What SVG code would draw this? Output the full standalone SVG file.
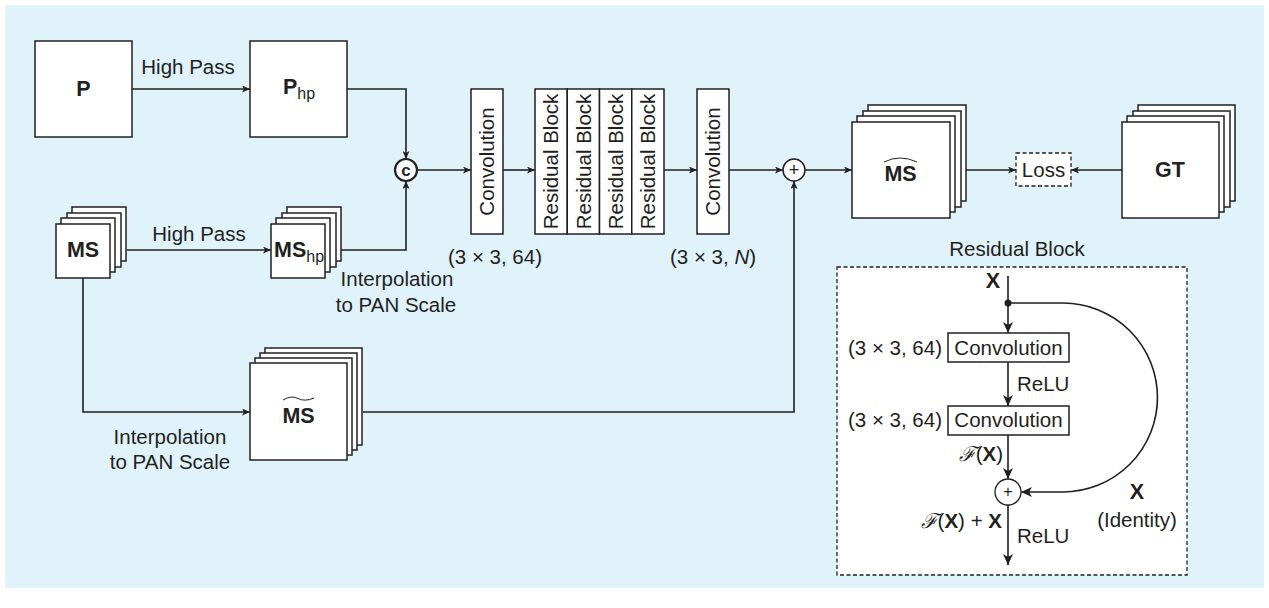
<svg xmlns="http://www.w3.org/2000/svg" width="1269" height="608" viewBox="0 0 1269 608">
  <style>
    .bg { fill: #e0f2fa; }
    .box { fill: #ffffff; stroke: #231f20; stroke-width: 1.5; }
    .dash { fill: #ffffff; stroke: #231f20; stroke-width: 1.3; stroke-dasharray: 4 2.5; }
    .wire { fill: none; stroke: #231f20; stroke-width: 1.6; }
    .t { font-family: "Liberation Sans", Arial, sans-serif; font-size: 20.5px; fill: #231f20; }
    .b { font-weight: bold; font-size: 21.5px; }
    .sub { font-size: 16px; font-weight: normal; }
    .mid { text-anchor: middle; }
    .end { text-anchor: end; }
  </style>
  <defs>
    <marker id="arr" markerUnits="userSpaceOnUse" markerWidth="9" markerHeight="7" refX="8" refY="3.5" orient="auto">
      <path d="M0,0 L8,3.5 L0,7 L2,3.5 Z" fill="#231f20"/>
    </marker>
    <marker id="arrL" markerUnits="userSpaceOnUse" markerWidth="12" markerHeight="10" refX="11" refY="5" orient="auto">
      <path d="M0,0 L11,5 L0,10 L3,5 Z" fill="#231f20"/>
    </marker>
  </defs>

  <rect class="bg" x="5" y="5" width="1259" height="583"/>

  <!-- connectors -->
  <g id="connectors">
    <path class="wire" d="M132,89 H250" marker-end="url(#arr)"/>
    <path class="wire" d="M347,89 H406 V159" marker-end="url(#arr)"/>
    <path class="wire" d="M127,250 H271" marker-end="url(#arr)"/>
    <path class="wire" d="M341,250 H406 V181" marker-end="url(#arr)"/>
    <path class="wire" d="M83,277 V412 H250" marker-end="url(#arr)"/>
    <path class="wire" d="M417,170 H471" marker-end="url(#arr)"/>
    <path class="wire" d="M503,170 H535" marker-end="url(#arr)"/>
    <path class="wire" d="M664,170 H697" marker-end="url(#arr)"/>
    <path class="wire" d="M729,170 H783" marker-end="url(#arr)"/>
    <path class="wire" d="M363,412 H794 V181" marker-end="url(#arr)"/>
    <path class="wire" d="M805,170 H852" marker-end="url(#arr)"/>
    <path class="wire" d="M966,170 H1016" marker-end="url(#arr)"/>
    <path class="wire" d="M1122,170 H1071" marker-end="url(#arr)"/>
    <!-- edge labels -->
    <text class="t mid" x="188" y="74">High Pass</text>
    <text class="t mid" x="199" y="241">High Pass</text>
    <text class="t mid" x="397" y="286">Interpolation</text>
    <text class="t mid" x="396" y="312">to PAN Scale</text>
    <text class="t mid" x="170" y="444">Interpolation</text>
    <text class="t mid" x="170" y="469">to PAN Scale</text>
  </g>

  <!-- panchromatic input -->
  <g id="node-p">
    <rect class="box" x="35" y="41" width="97" height="96"/>
    <text class="t b mid" x="83.5" y="96">P</text>
  </g>

  <g id="node-php">
    <rect class="box" x="250" y="41" width="97" height="96"/>
    <text class="t b" x="283" y="94">P<tspan class="sub" dy="5">hp</tspan></text>
  </g>

  <!-- multispectral stacks -->
  <g id="node-ms">
    <rect class="box" x="72" y="207" width="54" height="54"/>
    <rect class="box" x="67" y="213" width="54" height="54"/>
    <rect class="box" x="61" y="218" width="54" height="54"/>
    <rect class="box" x="56" y="224" width="54" height="54"/>
    <text class="t b mid" x="83" y="257">MS</text>
  </g>

  <g id="node-mshp">
    <rect class="box" x="287" y="207" width="54" height="54"/>
    <rect class="box" x="282" y="213" width="54" height="54"/>
    <rect class="box" x="276" y="218" width="54" height="54"/>
    <rect class="box" x="271" y="224" width="54" height="54"/>
    <text class="t b" x="274" y="257">MS<tspan class="sub" dy="5">hp</tspan></text>
  </g>

  <g id="node-ms-interp">
    <rect class="box" x="265" y="348" width="97" height="97"/>
    <rect class="box" x="260" y="353" width="97" height="97"/>
    <rect class="box" x="255" y="358" width="97" height="97"/>
    <rect class="box" x="250" y="363" width="97" height="97"/>
    <path d="M283,400 Q291,395 298,398.5 T314,398" fill="none" stroke="#231f20" stroke-width="1"/>
    <text class="t b mid" x="298.5" y="423">MS</text>
  </g>

  <!-- concatenation -->
  <g id="node-concat">
    <circle cx="406" cy="170" r="11" fill="#ffffff" stroke="#231f20" stroke-width="2.2"/>
    <text class="t b mid" x="406" y="176" style="font-size:17px">c</text>
  </g>

  <g id="node-conv1">
    <rect class="box" x="471" y="89" width="32" height="145"/>
    <text class="t mid" transform="translate(494,161.5) rotate(-90)">Convolution</text>
    <text class="t mid" x="495" y="264">(3 × 3, 64)</text>
  </g>

  <g id="node-resblocks">
    <rect class="box" x="535" y="89" width="32.25" height="145"/>
    <rect class="box" x="567.25" y="89" width="32.25" height="145"/>
    <rect class="box" x="599.5" y="89" width="32.25" height="145"/>
    <rect class="box" x="631.75" y="89" width="32.25" height="145"/>
    <text class="t mid" transform="translate(558,161.5) rotate(-90)">Residual Block</text>
    <text class="t mid" transform="translate(590.5,161.5) rotate(-90)">Residual Block</text>
    <text class="t mid" transform="translate(622.5,161.5) rotate(-90)">Residual Block</text>
    <text class="t mid" transform="translate(655,161.5) rotate(-90)">Residual Block</text>
  </g>

  <g id="node-conv2">
    <rect class="box" x="697" y="89" width="32" height="145"/>
    <text class="t mid" transform="translate(720,161.5) rotate(-90)">Convolution</text>
    <text class="t mid" x="713" y="264">(3 × 3, <tspan font-style="italic">N</tspan>)</text>
  </g>

  <g id="node-add">
    <circle cx="794" cy="170" r="11" fill="#ffffff" stroke="#231f20" stroke-width="1.5"/>
    <text class="t mid" x="794" y="176" style="font-size:18px">+</text>
  </g>

  <g id="node-ms-out">
    <rect class="box" x="868" y="105" width="98" height="96"/>
    <rect class="box" x="863" y="111" width="98" height="96"/>
    <rect class="box" x="857" y="116" width="98" height="96"/>
    <rect class="box" x="852" y="122" width="98" height="96"/>
    <path d="M884,162 Q900,154 917,162" fill="none" stroke="#231f20" stroke-width="1"/>
    <text class="t b mid" x="900.5" y="181">MS</text>
  </g>

  <g id="node-loss">
    <rect class="dash" x="1016" y="153" width="55" height="33"/>
    <text class="t mid" x="1043.5" y="177">Loss</text>
  </g>

  <g id="node-gt">
    <rect class="box" x="1138" y="105" width="97" height="96"/>
    <rect class="box" x="1133" y="111" width="97" height="96"/>
    <rect class="box" x="1127" y="116" width="97" height="96"/>
    <rect class="box" x="1122" y="122" width="97" height="96"/>
    <text class="t b mid" x="1170" y="177">GT</text>
  </g>

  <!-- residual block detail -->
  <g id="node-residual-detail">
    <text class="t mid" x="1017" y="256">Residual Block</text>
    <rect class="dash" x="837" y="267" width="350" height="308"/>
    <text class="t b mid" x="993" y="288">X</text>
    <path class="wire" d="M1008,276 V333" marker-end="url(#arrL)"/>
    <circle cx="1008" cy="303" r="3.5" fill="#231f20"/>
    <path class="wire" d="M1008,303 H1063 A94.5,94.5 0 0 1 1063,492 H1021" marker-end="url(#arrL)"/>
    <rect class="box" x="948" y="333" width="121" height="29"/>
    <text class="t mid" x="1008.5" y="355">Convolution</text>
    <text class="t end" x="942" y="355">(3 × 3, 64)</text>
    <path class="wire" d="M1008,362 V406" marker-end="url(#arrL)"/>
    <text class="t" x="1017" y="391">ReLU</text>
    <rect class="box" x="948" y="406" width="121" height="29"/>
    <text class="t mid" x="1008.5" y="427">Convolution</text>
    <text class="t end" x="942" y="427">(3 × 3, 64)</text>
    <path class="wire" d="M1008,435 V479" marker-end="url(#arrL)"/>
    <text class="t end" x="1003" y="461"><tspan font-family="DejaVu Serif, serif" font-style="italic">ℱ</tspan>(<tspan font-weight="bold">X</tspan>)</text>
    <circle cx="1008" cy="492" r="13" fill="#ffffff" stroke="#231f20" stroke-width="1.3"/>
    <text class="t mid" x="1008" y="497" style="font-size:16px">+</text>
    <path class="wire" d="M1008,505 V565" marker-end="url(#arrL)"/>
    <text class="t end" x="1002" y="528"><tspan font-family="DejaVu Serif, serif" font-style="italic">ℱ</tspan>(<tspan font-weight="bold">X</tspan>) + <tspan font-weight="bold">X</tspan></text>
    <text class="t" x="1017" y="543">ReLU</text>
    <text class="t b mid" x="1137" y="499">X</text>
    <text class="t mid" x="1137" y="527">(Identity)</text>
  </g>
</svg>
